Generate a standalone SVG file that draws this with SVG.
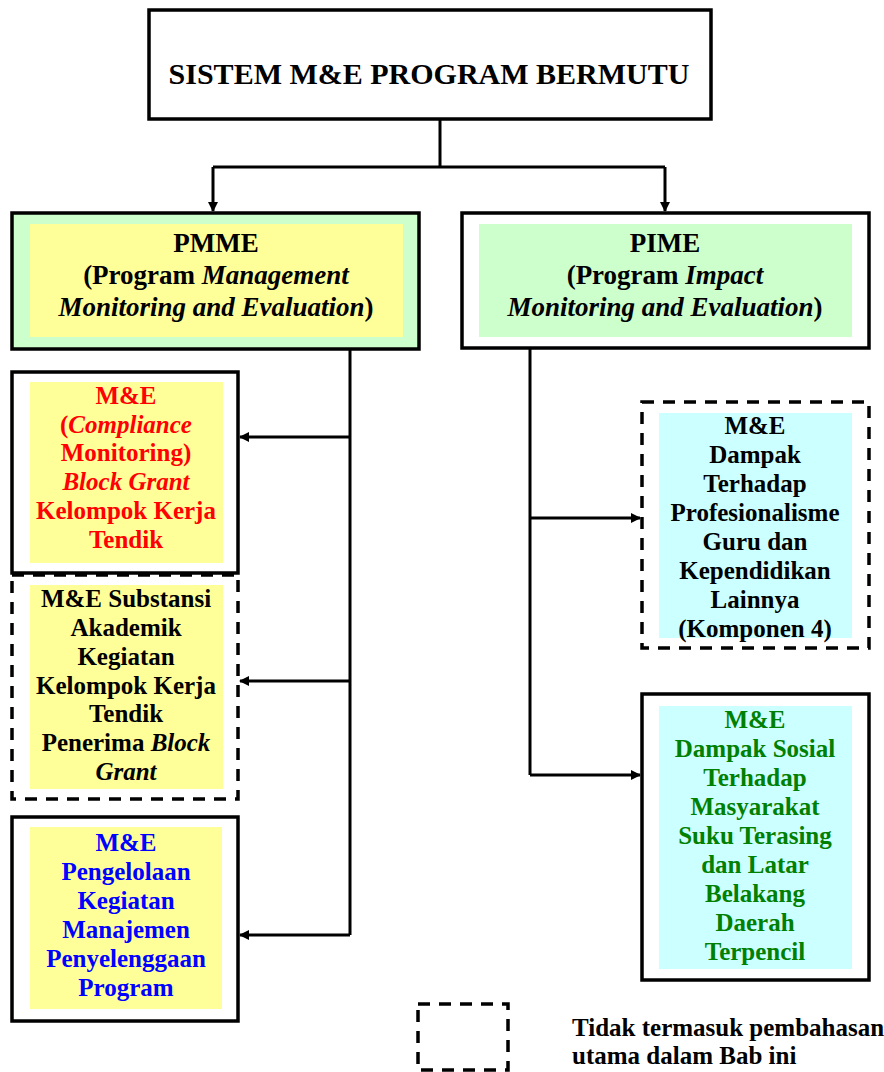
<svg xmlns="http://www.w3.org/2000/svg" width="884" height="1072" viewBox="0 0 884 1072">
<style>
.box{fill:#fff;stroke:#000;stroke-width:3.5}
.dash{fill:#fff;stroke:#000;stroke-width:3.5;stroke-dasharray:12 9}
.t{font-family:"Liberation Serif","Times New Roman",serif;font-weight:bold;text-anchor:middle}
.s{font-size:25px}
.h{font-size:27px}
.ln{fill:none;stroke:#000;stroke-width:3}
</style>
<defs>
<marker id="ah" markerWidth="10" markerHeight="10" refX="9" refY="5" orient="auto" markerUnits="userSpaceOnUse">
<path d="M0,0 L10,5 L0,10 Z" fill="#000"/>
</marker>
</defs>
<rect width="884" height="1072" fill="#fff"/>
<g id="title">
<rect class="box" x="149" y="10" width="562" height="109"/>
<text class="t" x="429" y="84" font-size="30">SISTEM M&amp;E PROGRAM BERMUTU</text>
</g>
<g id="pmme">
<rect x="12" y="213" width="407" height="136" fill="#CCFFCC" stroke="#000" stroke-width="3.5"/>
<rect x="30" y="224" width="373" height="113" fill="#FFFF99"/>
<text class="t h" x="216" y="252">PMME</text>
<text class="t h" x="216" y="284">(Program <tspan font-style="italic">Management</tspan></text>
<text class="t h" x="216" y="316"><tspan font-style="italic">Monitoring and Evaluation</tspan>)</text>
</g>
<g id="pime">
<rect class="box" x="462" y="213" width="407" height="135"/>
<rect x="479" y="224" width="373" height="113" fill="#CCFFCC"/>
<text class="t h" x="665" y="252">PIME</text>
<text class="t h" x="665" y="284">(Program <tspan font-style="italic">Impact</tspan></text>
<text class="t h" x="665" y="316"><tspan font-style="italic">Monitoring and Evaluation</tspan>)</text>
</g>
<g id="compliance">
<rect class="box" x="12" y="372" width="226" height="201"/>
<rect x="30" y="382" width="193" height="181" fill="#FFFF99"/>
<g class="t s" fill="#FF0000">
<text x="126" y="404">M&amp;E</text>
<text x="126" y="433">(<tspan font-style="italic">Compliance</tspan></text>
<text x="126" y="461">Monitoring)</text>
<text x="126" y="490" font-style="italic">Block Grant</text>
<text x="126" y="519">Kelompok Kerja</text>
<text x="126" y="548">Tendik</text>
</g>
</g>
<g id="substansi">
<rect class="dash" x="12" y="575" width="226" height="224"/>
<rect x="30" y="585" width="193" height="204" fill="#FFFF99"/>
<g class="t s" fill="#000">
<text x="126" y="607">M&amp;E Substansi</text>
<text x="126" y="636">Akademik</text>
<text x="126" y="665">Kegiatan</text>
<text x="126" y="694">Kelompok Kerja</text>
<text x="126" y="722">Tendik</text>
<text x="126" y="751">Penerima <tspan font-style="italic">Block</tspan></text>
<text x="126" y="780" font-style="italic">Grant</text>
</g>
</g>
<g id="pengelolaan">
<rect class="box" x="12" y="817" width="226" height="204"/>
<rect x="30" y="827" width="192" height="182" fill="#FFFF99"/>
<g class="t s" fill="#0000FF">
<text x="126" y="851">M&amp;E</text>
<text x="126" y="880">Pengelolaan</text>
<text x="126" y="909">Kegiatan</text>
<text x="126" y="938">Manajemen</text>
<text x="126" y="967">Penyelenggaan</text>
<text x="126" y="996">Program</text>
</g>
</g>
<g id="profesionalisme">
<rect class="dash" x="642" y="402" width="227" height="246"/>
<rect x="659" y="413" width="193" height="225" fill="#CCFFFF"/>
<g class="t s" fill="#000">
<text x="755" y="434">M&amp;E</text>
<text x="755" y="463">Dampak</text>
<text x="755" y="492">Terhadap</text>
<text x="755" y="521">Profesionalisme</text>
<text x="755" y="550">Guru dan</text>
<text x="755" y="579">Kependidikan</text>
<text x="755" y="608">Lainnya</text>
<text x="755" y="637">(Komponen 4)</text>
</g>
</g>
<g id="sosial">
<rect class="box" x="642" y="694" width="227" height="286"/>
<rect x="659" y="706" width="193" height="263" fill="#CCFFFF"/>
<g class="t s" fill="#008000">
<text x="755" y="728">M&amp;E</text>
<text x="755" y="757">Dampak Sosial</text>
<text x="755" y="786">Terhadap</text>
<text x="755" y="815">Masyarakat</text>
<text x="755" y="844">Suku Terasing</text>
<text x="755" y="873">dan Latar</text>
<text x="755" y="902">Belakang</text>
<text x="755" y="931">Daerah</text>
<text x="755" y="960">Terpencil</text>
</g>
</g>
<g id="connectors">
<path class="ln" d="M440,119 V167"/>
<path class="ln" d="M213,167 H665"/>
<path class="ln" d="M213,167 V211" marker-end="url(#ah)"/>
<path class="ln" d="M665,167 V211" marker-end="url(#ah)"/>
<path class="ln" d="M350,349 V935"/>
<path class="ln" d="M350,437 H240" marker-end="url(#ah)"/>
<path class="ln" d="M350,681 H240" marker-end="url(#ah)"/>
<path class="ln" d="M350,935 H240" marker-end="url(#ah)"/>
<path class="ln" d="M530,348 V775"/>
<path class="ln" d="M530,518 H640" marker-end="url(#ah)"/>
<path class="ln" d="M530,775 H640" marker-end="url(#ah)"/>
</g>
<g id="legend">
<rect class="dash" x="418" y="1004" width="90" height="66"/>
<text x="572" y="1036" font-family="Liberation Serif, serif" font-weight="bold" font-size="25">Tidak termasuk pembahasan</text>
<text x="572" y="1064" font-family="Liberation Serif, serif" font-weight="bold" font-size="25">utama dalam Bab ini</text>
</g>
</svg>
